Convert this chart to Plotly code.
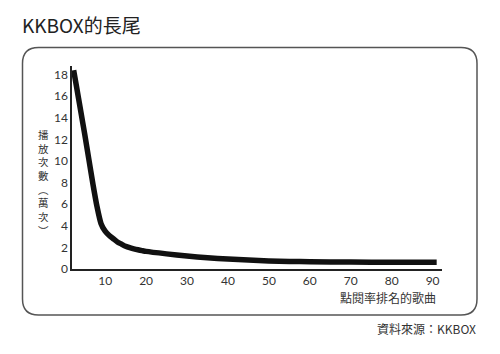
import plotly.graph_objects as go

# Data
ranks = [2.3, 3, 4, 5, 6, 7, 8, 9, 10, 11, 12, 13, 14, 15, 16, 17, 18, 19, 20,
         25, 30, 35, 40, 45, 50, 55, 60, 70, 80, 91]
plays = [18.4, 16.9, 14.7, 12.5, 10.2, 7.9, 5.8, 4.2, 3.5, 3.1, 2.8, 2.5, 2.3, 2.1,
         1.97, 1.87, 1.78, 1.7, 1.63, 1.4, 1.2, 1.04, 0.92, 0.83, 0.75, 0.7, 0.67,
         0.64, 0.62, 0.63]
x_ticks = [10, 20, 30, 40, 50, 60, 70, 80, 90]
y_ticks = [0, 2, 4, 6, 8, 10, 12, 14, 16, 18]

title_text = "KKBOX的長尾"
x_title = "點閱率排名的歌曲"
y_title_chars = ["播", "放", "次", "數", "︵", "萬", "次", "︶"]
source_text = "資料來源：KKBOX"

W, H = 500, 354
L, R, T, B = 72, 58, 66, 85
PW, PH = W - L - R, H - T - B

def px(xp):
    return (xp - L) / PW

def py(yp):
    return (H - B - yp) / PH

CJK = "Noto Sans CJK TC"

fig = go.Figure()
fig.add_trace(go.Scatter(
    x=ranks, y=plays, mode="lines",
    line=dict(color="#111111", width=5.5, shape="spline", smoothing=0.5),
    hoverinfo="skip", showlegend=False,
))

fig.update_layout(
    width=W, height=H,
    margin=dict(l=L, r=R, t=T, b=B),
    paper_bgcolor="white", plot_bgcolor="white",
    xaxis=dict(range=[1.9, 92.3], tickvals=x_ticks, ticktext=[str(v) for v in x_ticks],
               showgrid=False, zeroline=False, showline=True, linecolor="#222",
               linewidth=1.5, ticks="", tickfont=dict(family="Lato", size=12, color="#333")),
    yaxis=dict(range=[0, 18.8], tickvals=y_ticks, ticktext=[str(v) for v in y_ticks],
               showgrid=False, zeroline=False, showline=True, linecolor="#222",
               linewidth=1.5, ticks="", tickfont=dict(family="Lato", size=12, color="#333")),
)

# rounded frame
x0, x1, y0, y1, r = 22.5, 477, 47.5, 315, 16
path = (f"M {px(x0+r)},{py(y0)} L {px(x1-r)},{py(y0)} Q {px(x1)},{py(y0)} {px(x1)},{py(y0+r)} "
        f"L {px(x1)},{py(y1-r)} Q {px(x1)},{py(y1)} {px(x1-r)},{py(y1)} "
        f"L {px(x0+r)},{py(y1)} Q {px(x0)},{py(y1)} {px(x0)},{py(y1-r)} "
        f"L {px(x0)},{py(y0+r)} Q {px(x0)},{py(y0)} {px(x0+r)},{py(y0)} Z")
fig.add_shape(type="path", path=path, xref="paper", yref="paper",
              line=dict(color="#555", width=1.5), layer="below")

fig.add_annotation(text=title_text, xref="paper", yref="paper", x=px(20), y=py(24),
                   xanchor="left", yanchor="middle", showarrow=False,
                   font=dict(family=CJK, size=19, color="#222"))
fig.add_annotation(text=x_title, xref="paper", yref="paper", x=px(438), y=py(297),
                   xanchor="right", yanchor="middle", showarrow=False,
                   font=dict(family=CJK, size=12, color="#333"))
fig.add_annotation(text=source_text, xref="paper", yref="paper", x=px(478), y=py(328),
                   xanchor="right", yanchor="middle", showarrow=False,
                   font=dict(family=CJK, size=12, color="#333"))
fig.add_annotation(text="<br>".join(y_title_chars), xref="paper", yref="paper",
                   x=px(43), y=py(182), xanchor="center", yanchor="middle",
                   showarrow=False, align="center",
                   font=dict(family=CJK, size=10.5, color="#333"))

fig.write_html("out.html")
